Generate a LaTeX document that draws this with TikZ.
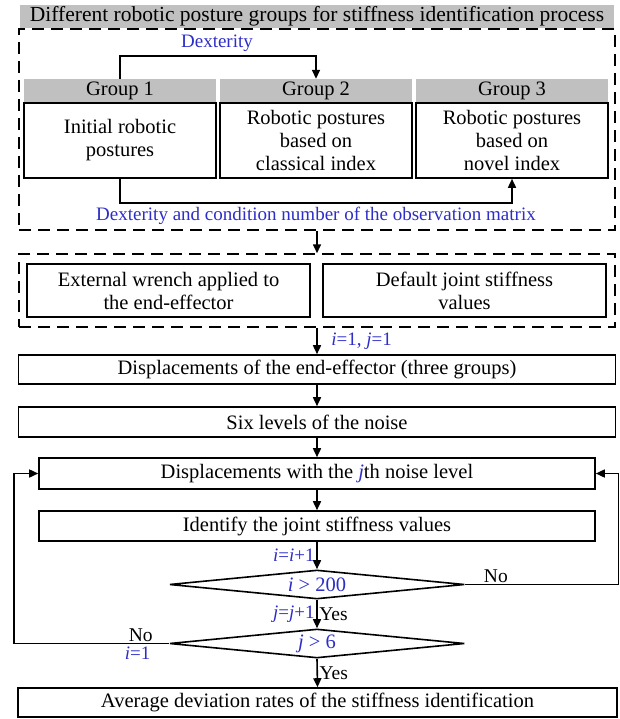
\documentclass[tikz,border=0pt]{standalone}
\usepackage{fontspec}
\setmainfont{Liberation Serif}
\usetikzlibrary{positioning,shapes.geometric,arrows.meta}

\definecolor{labelblue}{RGB}{45,45,200}
\definecolor{bandgray}{RGB}{192,192,192}

\tikzset{
  box/.style={draw, line width=1.6pt, inner sep=0pt, align=center, font=\fontsize{20.5}{23}\selectfont},
  band/.style={fill=bandgray, inner sep=0pt, font=\fontsize{20.5}{23}\selectfont},
  frame/.style={draw, line width=1.5pt, dash pattern=on 12pt off 7pt},
  decide/.style={draw, diamond, aspect=10, inner sep=0pt, line width=1.6pt, text=labelblue, font=\fontsize{20.5}{23}\selectfont},
  flow/.style={line width=1.6pt, -{Triangle[length=9pt,width=8pt]}},
  note/.style={text=labelblue, font=\fontsize{19}{21}\selectfont, inner sep=1.5pt},
  tag/.style={font=\fontsize{19.5}{21}\selectfont, inner sep=1.5pt}
}

\begin{document}
\begin{tikzpicture}[x=1pt, y=-1pt]
  \useasboundingbox (0,0) rectangle (619,719);

  % posture groups
  \node (title) [band, minimum width=594pt, minimum height=23pt, font=\fontsize{21.5}{23}\selectfont] at (317,16.5) {Different robotic posture groups for stiffness identification process};
  \node (frameA) [frame, minimum width=596pt, minimum height=201pt] at (317,129.5) {};

  \node (h1) [band, minimum width=192pt, minimum height=23pt] at (120,90.5) {Group 1};
  \node (h2) [band, minimum width=192pt, minimum height=23pt] at (316,90.5) {Group 2};
  \node (h3) [band, minimum width=192pt, minimum height=23pt] at (512,90.5) {Group 3};
  \node (g1) [box, minimum width=192pt, minimum height=75pt, below=0pt of h1] {Initial robotic\\postures};
  \node (g2) [box, minimum width=192pt, minimum height=75pt, below=0pt of h2] {Robotic postures\\based on\\classical index};
  \node (g3) [box, minimum width=192pt, minimum height=75pt, below=0pt of h3] {Robotic postures\\based on\\novel index};

  \node (dex) [note] at (217,43) {Dexterity};
  \node (dexcond) [note] at (316,216) {Dexterity and condition number of the observation matrix};
  \draw [flow] (h1.north) -- ++(0,-23) -| (h2.north);
  \draw [flow] (g1.south) -- ++(0,24) -| (g3.south);

  % inputs
  \node (frameB) [frame, minimum width=596pt, minimum height=73pt] at (317,290.5) {};
  \node (wrench) [box, minimum width=283pt, minimum height=53pt] at (168.5,290.5) {External wrench applied to\\the end-effector};
  \node (default) [box, minimum width=283pt, minimum height=53pt] at (464.5,290.5) {Default joint stiffness\\values};
  \draw [flow] (frameA.south) -- (frameB.north);

  % identification loop
  \node (disp) [box, minimum width=597pt, minimum height=29pt] at (317,369.5) {Displacements of the end-effector (three groups)};
  \node (six) [box, minimum width=597pt, minimum height=30pt] at (317,422) {Six levels of the noise};
  \node (jth) [box, minimum width=556pt, minimum height=31pt] at (317,473.5) {Displacements with the \textcolor{labelblue}{\textit{j}}th noise level};
  \node (ident) [box, minimum width=556pt, minimum height=30pt] at (317,526) {Identify the joint stiffness values};
  \node (dec1) [decide, minimum width=295pt, minimum height=29pt] at (317,584.5) {\textit{i} > 200};
  \node (dec2) [decide, minimum width=295pt, minimum height=29pt] at (317,643.5) {\textit{j} > 6};
  \node (final) [box, minimum width=599pt, minimum height=29pt] at (317.5,702.5) {Average deviation rates of the stiffness identification};

  \draw [flow] (frameB.south) -- node [note, right, xshift=12pt] {\textit{i}=1, \textit{j}=1} (disp.north);
  \draw [flow] (disp.south) -- (six.north);
  \draw [flow] (six.south) -- (jth.north);
  \draw [flow] (jth.south) -- (ident.north);
  \draw [flow] (ident.south) -- node [note, left] {\textit{i}=\textit{i}+1} (dec1.north);
  \draw [flow] (dec1.south) -- node [note, left] {\textit{j}=\textit{j}+1} node [tag, right] {Yes} (dec2.north);
  \draw [flow] (dec2.south) -- node [tag, right] {Yes} (final.north);
  \draw [flow] (dec1.east) -- node [tag, above, pos=0.2] {No} ++(153,0) |- (jth.east);
  \draw [flow] (dec2.west) -- node [tag, above, pos=0.18] {No} node [note, below, pos=0.2, yshift=-1pt] {\textit{i}=1} ++(-155,0) |- (jth.west);

\end{tikzpicture}
\end{document}
